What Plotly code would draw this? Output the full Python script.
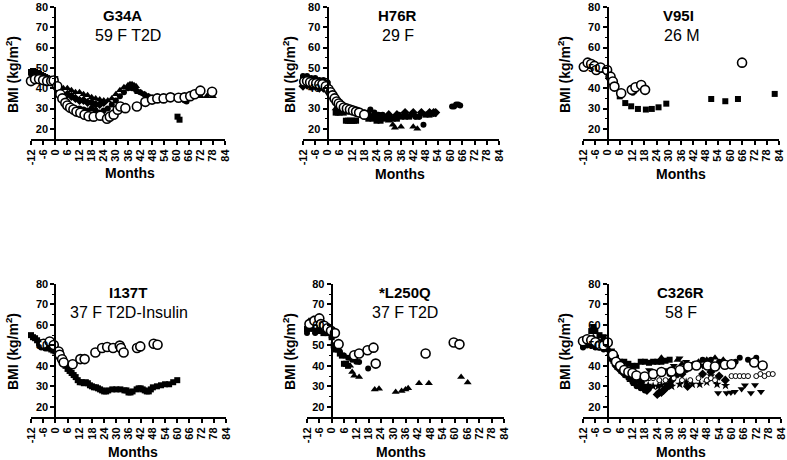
import plotly.graph_objects as go

# ---------------- data (months, BMI) ----------------
panel_titles = ["G34A", "H76R", "V95I", "I137T", "*L250Q", "C326R"]
panel_subtitles = ["59 F T2D", "29 F", "26 M", "37 F T2D-Insulin", "37 F T2D", "58 F"]
x_ticks = [-12, -6, 0, 6, 12, 18, 24, 30, 36, 42, 48, 54, 60, 66, 72, 78, 84]

# Panel 1: G34A
g34a_sq_m = [-12, -11, -10, -9, -8, -7, -6, -5, -4, -3, -2, -1, 0, 60.5, 61.5]
g34a_sq_v = [48, 48.5, 48, 47.5, 47, 46.5, 46, 45.5, 45, 44.5, 44, 44, 44.5, 26, 24.5]
g34a_tri_m = [0, 2, 4, 6, 8, 10, 12, 14, 16, 18, 20, 22, 24, 26, 28, 30, 32, 34, 36, 37, 38, 39, 40, 41, 42, 44, 46, 48, 52, 56, 60, 64, 68, 72, 75, 78]
g34a_tri_v = [43, 41, 40, 40, 39, 38, 38, 37, 36.5, 35.5, 35, 34.5, 34, 34, 35, 37, 39, 40.5, 41.5, 42, 42, 41.5, 41, 38, 38, 37, 36, 35, 35, 35, 35.5, 35.5, 36, 36, 36, 36]
g34a_dot_m = [-12, -10, -8, -6, -4, -2, 0, 1, 2, 3, 4, 5, 6, 7, 8, 9, 10, 12, 14, 16, 18, 20, 22, 24, 26, 28, 30, 32, 34, 36, 38, 40, 42, 44, 46, 48, 50, 54, 58, 62, 64, 65]
g34a_dot_v = [47, 46, 45, 45, 44, 43, 42, 40, 38, 36, 34, 33, 32, 31, 30.5, 30, 30, 30, 29.5, 29, 30, 29, 28, 29, 30, 32, 34, 36, 38, 40, 40, 39, 38, 37, 36, 35, 35, 35, 36, 36, 34, 33.5]
g34a_dia_m = [6, 8, 10, 12, 14, 16, 18, 20, 22, 24]
g34a_dia_v = [37, 36, 35, 34, 34, 33, 33, 32, 32, 33]
g34a_open_m = [-12, -10, -8, -6, -4, -2, -0.8, 1, 2.5, 3.5, 5, 6, 7.4, 9, 10.5, 12.4, 14.5, 16.5, 19, 22.3, 25.6, 27, 28.9, 30.9, 32.2, 34.7, 40.4, 44.6, 47.9, 50.5, 53.6, 57, 61, 64, 66.8, 69, 71.8, 77.6]
g34a_open_v = [43.5, 44.5, 44.5, 44, 43.5, 43.5, 43.8, 41, 37, 35, 32.8, 31.5, 30.4, 29.5, 28.5, 27.9, 27, 26.2, 26, 26.5, 25, 26, 27, 29.4, 31, 30.2, 31, 33.3, 34.4, 35, 35, 35.5, 35.3, 35.5, 36.1, 37, 38.8, 38.3]

# Panel 2: H76R
h76r_sq_m = [-12, -10, -8, -6, -4, -2, 0, 4, 5, 6, 8, 9, 10, 11, 12, 13, 14, 20, 22, 24, 26, 28, 30, 32, 34, 36, 38, 40, 44, 48, 50, 52]
h76r_sq_v = [45, 45, 44, 44, 43, 42, 42, 28, 28, 28, 28, 24, 24, 24, 24, 24, 24, 25, 25, 24, 24, 25, 25, 25, 25, 26, 26, 26, 26, 27, 27, 27.5]
h76r_tri_m = [-11, -9, -7, -5, -3, -1, 4, 6, 8, 12, 16, 20, 24, 28, 30, 32, 33, 36, 42, 44]
h76r_tri_v = [42, 43, 42, 41, 40, 40, 30, 29, 29, 28, 28, 27, 26, 25, 24, 22, 20.5, 21, 21, 20]
h76r_dot_m = [-12, -10, -8, -6, -4, -2, 0, 6, 8, 10, 12, 14, 16, 18, 20, 21, 23, 25, 27, 29, 31, 33, 35, 38, 41, 43, 45, 47, 61, 62, 63, 64, 65]
h76r_dot_v = [46, 46, 45, 45, 44, 44, 43, 31, 30, 30, 30, 29, 28, 28, 28, 29.5, 28, 27, 27, 26, 25, 26, 27, 27, 27, 26, 26, 22, 31, 31, 32, 32, 31.5]
h76r_dia_m = [-12, -10, -8, -6, -4, -2, 10, 14, 18, 22, 26, 30, 34, 38, 42, 46, 50, 52, 53]
h76r_dia_v = [41, 41.5, 41, 41, 40, 40, 29, 28, 27, 26, 26, 27, 27, 28, 28, 28, 28, 28, 28]
h76r_open_m = [-11.4, -10, -8.5, -7, -5.5, -4, -2.5, -0.8, 0.5, 1.5, 2.5, 3.5, 4.5, 5.5, 6.5, 8, 9.5, 11, 12.5, 14, 15.5, 18]
h76r_open_v = [43.3, 43.5, 43, 42.5, 42.5, 42, 42, 41, 39.5, 38, 36.5, 35, 33.5, 32.5, 31.5, 30.5, 30, 29.5, 29, 28.5, 28, 27]

# Panel 3: V95I
v95i_sq_m = [-12, -10, -8, -6, -4, -2, 0, 2, 4, 6, 8.7, 11.6, 14.9, 18.8, 21.7, 25, 28.8, 50.8, 57.7, 63.9, 81.9]
v95i_sq_v = [50, 51, 51, 50, 50, 49, 48, 45, 41, 36, 32.7, 31.1, 29.8, 29.5, 29.8, 30.6, 32.4, 34.7, 33.6, 34.7, 37.2]
v95i_dot_m = [12.4, 13.2]
v95i_dot_v = [37.8, 38.5]
v95i_open_m = [-11.6, -9.7, -8, -6.4, -5.5, -3.4, -0.2, 1.5, 2.6, 3.4, 6.7, 11.9, 13.7, 16.5, 18.4, 65.9]
v95i_open_v = [50.6, 52.6, 51.9, 51, 49, 50.2, 49, 45.7, 43.3, 40.8, 37.5, 39.2, 40.5, 41.6, 39.2, 52.6]

# Panel 4: I137T
i137t_sq_m = [-12, -11, -10, -9, -8, -7, -6, -5, -4, -3, -2, -1, 0, 1, 2, 3, 4, 5, 6, 7, 8, 9, 10, 11, 12, 13, 14, 15, 16, 17, 18, 19, 20, 21, 22, 23, 24, 25, 26, 28, 30, 32, 34, 35, 36, 37, 38, 40, 41, 42, 43, 44, 45, 46, 47, 48, 50, 52, 54, 56, 58, 60]
i137t_sq_v = [55, 54, 53.5, 52.5, 51.5, 50.5, 50, 49.5, 49, 48.5, 48, 47.5, 47, 46, 44.5, 43, 41, 40, 38.5, 37.5, 36.5, 35.5, 34.5, 33, 32, 32, 31.5, 32, 31.5, 30.5, 30, 29.5, 29.5, 29, 28.5, 28, 27.5, 27.5, 28, 28.5, 28.5, 28.5, 28, 28, 27, 27, 27.5, 28.5, 29, 29, 28.5, 28, 27.5, 27.5, 28.5, 29.5, 30, 30.5, 31, 31, 32, 33]
i137t_dot_m = [-8, -7, -6, -5, -4]
i137t_dot_v = [50, 49, 49.5, 48.5, 49]
i137t_open_m = [-5.8, -2.8, -0.8, 1.6, 2.1, 3.3, 4.1, 8.5, 12.3, 14.4, 19.7, 23, 25.5, 28.4, 31.7, 32.3, 33.6, 40.2, 41.8, 48.4, 50.3]
i137t_open_v = [50.8, 51.9, 50.2, 47, 45.4, 43.2, 41.6, 40.8, 43.3, 43.3, 46.5, 48.7, 49.2, 48.7, 49.9, 48.7, 46.5, 48.7, 49.5, 50.8, 50.3]

# Panel 5: *L250Q
l250q_sq_m = [-12, -10, -8, -6, -4, -2, 0, 1, 2, 3, 4, 5, 6, 7, 8]
l250q_sq_v = [58, 59, 57, 57, 56, 56, 54, 50, 48, 48, 46, 45, 41, 41, 40]
l250q_tri_m = [-11, -9, -7, -5, -3, -1, 9, 10, 11, 13.4, 21, 23.1, 31.2, 34.1, 36, 37.3, 42.6, 47.4, 63.1, 66.3]
l250q_tri_v = [62, 63, 63, 62, 60, 59, 40, 37, 35.1, 34.6, 28.5, 28.8, 27.2, 27.7, 28.5, 29, 31.5, 31.5, 34.6, 31.9]
l250q_dot_m = [-12, -10, -8, -6, -4, -2, 0, 2, 4, 6, 8, 10, 12, 13.4, 17.8]
l250q_dot_v = [56, 58, 56, 58, 57, 56, 54, 50, 47, 45, 44, 43, 42, 41.9, 38.7]
l250q_open_m = [-10.8, -8.4, -6, -5.2, -3.6, -2, -0.3, 1.6, 3.4, 11, 13.4, 17.5, 20.4, 21.5, 45.8, 59.5, 62.3]
l250q_open_v = [60.4, 62, 63.2, 60.4, 59.6, 58.4, 57.1, 56, 50.6, 45.2, 46, 47.6, 48.9, 41.1, 46, 51.4, 50.5]

# Panel 6: C326R
c326r_sq_m = [-12, -10, -8, -7, -6, -4, -2, 0, 2, 4, 6, 8, 10, 12, 14, 16, 18, 20, 22, 24, 26, 28, 30]
c326r_sq_v = [50, 52, 57, 59, 57, 55, 54, 52, 47, 44, 42, 42, 41, 40, 40, 42, 42, 41.5, 42, 42, 42, 42.5, 43]
c326r_tri_m = [-11, -9, -7, -5, -3, -1, 1, 3, 5, 7, 9, 11, 13, 15, 17, 26, 33.8, 36, 40, 44, 48, 52, 56]
c326r_tri_v = [50, 51, 54, 53, 52, 51, 46, 42, 39, 37, 35, 33, 31, 30, 29, 44, 42.9, 41, 40, 42, 43, 44, 43]
c326r_dot_m = [-12, -10, -8, -6, -4, -2, 0, 2, 4, 6, 8, 10, 12, 14, 16, 18, 20, 30, 34, 38, 42, 46, 50, 54, 58, 62, 64, 68, 72]
c326r_dot_v = [49, 50, 50, 49, 49, 48, 48, 43, 40, 38, 36, 34, 32, 30, 29, 28, 29, 36, 37, 38, 41, 43, 43, 42, 41, 42, 44, 43, 44]
c326r_dia_m = [4, 6, 8, 10, 12, 14, 16, 17, 18, 19, 24, 25, 26, 27, 28, 29, 30, 31, 32, 33, 34, 36, 38.7, 46, 50, 54, 57]
c326r_dia_v = [40, 38, 36, 35, 34, 33, 32, 30, 29, 28, 26, 27, 27, 28, 29, 30, 31, 33, 35, 36, 36, 36, 29.9, 36, 37, 35, 33]
c326r_star_m = [16.4, 19.6, 22, 24.4, 26, 28.4, 31, 34.9, 38, 41, 44.6, 48, 53, 57.1]
c326r_star_v = [29.9, 30.5, 30, 30, 30.5, 31, 30, 31, 32, 31, 31, 32, 31, 30.4]
c326r_tdown_m = [20, 24, 28, 32, 34.8, 38, 42, 46, 50, 53.5, 57.6, 59.7, 61.6, 64.9, 66.5, 69.4, 71.4, 74.3]
c326r_tdown_v = [38, 37, 38, 40, 43.7, 42, 41, 40, 35, 26.7, 26.7, 27, 27.3, 28.7, 30.5, 26.7, 30.7, 27.4]
c326r_sopen_m = [20, 22, 25, 28, 32, 36, 40, 44, 48, 50, 52, 60, 62, 64, 66, 68, 72, 74, 76, 78, 80, 84.3]
c326r_sopen_v = [34, 34, 33, 33, 34, 33, 33, 34, 33, 34, 33, 35, 35, 35, 35, 35, 35, 36, 35, 36, 36, 36.8]
c326r_open_m = [-12, -10, -8, -6, -4, -2, 0, 2.5, 4, 6, 8, 10, 12, 13.9, 17.9, 22, 26, 30.9, 35, 39, 43, 48.4, 52, 56.8, 60, 71, 75.1]
c326r_open_v = [52, 53, 52.5, 51.5, 50, 50, 51.4, 45.4, 42, 40, 38, 37, 36.5, 35.3, 34.8, 36, 37, 37.2, 38, 39.7, 40.2, 40.2, 39.7, 40.5, 40.8, 41.6, 40.2]

# ---------------- styles ----------------
W, H = 787, 460
FONT = "Liberation Sans, Arial, sans-serif"
STY = {
    "sq": dict(symbol="square", size=6, color="black"),
    "tri": dict(symbol="triangle-up", size=7, color="black"),
    "dot": dict(symbol="circle", size=6, color="black"),
    "dia": dict(symbol="diamond", size=7, color="black"),
    "star": dict(symbol="star", size=7, color="black"),
    "tdown": dict(symbol="triangle-down", size=7, color="black"),
    "sopen": dict(symbol="circle", size=5, color="white", line=dict(color="black", width=1)),
    "open": dict(symbol="circle", size=9, color="white", line=dict(color="black", width=1.6)),
}

panels = [
    [("sq", g34a_sq_m, g34a_sq_v), ("tri", g34a_tri_m, g34a_tri_v), ("dot", g34a_dot_m, g34a_dot_v), ("dia", g34a_dia_m, g34a_dia_v), ("open", g34a_open_m, g34a_open_v)],
    [("sq", h76r_sq_m, h76r_sq_v), ("tri", h76r_tri_m, h76r_tri_v), ("dot", h76r_dot_m, h76r_dot_v), ("dia", h76r_dia_m, h76r_dia_v), ("open", h76r_open_m, h76r_open_v)],
    [("sq", v95i_sq_m, v95i_sq_v), ("dot", v95i_dot_m, v95i_dot_v), ("open", v95i_open_m, v95i_open_v)],
    [("sq", i137t_sq_m, i137t_sq_v), ("dot", i137t_dot_m, i137t_dot_v), ("open", i137t_open_m, i137t_open_v)],
    [("sq", l250q_sq_m, l250q_sq_v), ("tri", l250q_tri_m, l250q_tri_v), ("dot", l250q_dot_m, l250q_dot_v), ("open", l250q_open_m, l250q_open_v)],
    [("sq", c326r_sq_m, c326r_sq_v), ("tri", c326r_tri_m, c326r_tri_v), ("dot", c326r_dot_m, c326r_dot_v), ("dia", c326r_dia_m, c326r_dia_v),
     ("star", c326r_star_m, c326r_star_v), ("tdown", c326r_tdown_m, c326r_tdown_v), ("sopen", c326r_sopen_m, c326r_sopen_v), ("open", c326r_open_m, c326r_open_v)],
]

# pixel geometry of each panel: x-domain (px), y-domain (px, top, bottom)
xdom_px = [(31, 225), (303, 499), (583, 779), (31, 226), (307, 504), (583, 781)]
ydom_px = [(7, 139)] * 3 + [(284, 417)] * 3
title_px = [(122, 15), (397, 15), (678, 15), (128, 292), (405, 292), (680, 292)]
sub_px = [(128, 35), (398, 35), (682, 35), (129, 312), (405, 312), (681, 312)]
months_px = [(130, 173), (400, 174), (681, 174), (133, 452), (401, 452), (681, 452)]
ytitle_px = [(12, 75), (289, 75), (564, 75), (12, 352), (289, 352), (564, 352)]

XMIN, XMAX, YMIN, YMAX = -12, 84, 15, 80

fig = go.Figure()
layout = dict(
    width=W, height=H, margin=dict(l=0, r=0, t=0, b=0, autoexpand=False),
    paper_bgcolor="white", plot_bgcolor="white", showlegend=False,
    font=dict(family=FONT, color="black"),
)
annotations = []

def px2x(p):
    return p / W

def px2y(p):
    return 1 - p / H

for i, traces in enumerate(panels):
    n = i + 1
    xa = "x" if n == 1 else f"x{n}"
    ya = "y" if n == 1 else f"y{n}"
    for key, m, v in traces:
        st = STY[key]
        fig.add_trace(go.Scatter(
            x=m, y=v, mode="markers", xaxis=xa, yaxis=ya, cliponaxis=False,
            marker=dict(symbol=st["symbol"], size=st["size"], color=st["color"],
                        line=st.get("line", dict(width=0))),
            hoverinfo="x+y",
        ))
    x0, x1 = xdom_px[i]
    yt, yb = ydom_px[i]
    zero_px = x0 + (0 - XMIN) / (XMAX - XMIN) * (x1 - x0)
    layout["xaxis" if n == 1 else f"xaxis{n}"] = dict(
        domain=[px2x(x0), px2x(x1)], range=[XMIN, XMAX], anchor=ya, automargin=False,
        tickmode="array", tickvals=x_ticks, ticktext=[str(t) for t in x_ticks],
        tickangle=-90, ticks="outside", ticklen=4, tickwidth=1.5, tickcolor="black",
        showline=True, linewidth=2, linecolor="black", showgrid=False, zeroline=False,
        tickfont=dict(family=FONT, size=11, weight="bold", color="black"),
    )
    layout["yaxis" if n == 1 else f"yaxis{n}"] = dict(
        domain=[px2y(yb), px2y(yt)], range=[YMIN, YMAX], anchor="free", position=px2x(zero_px),
        automargin=False,
        tick0=0, dtick=10, ticks="outside", ticklen=4, tickwidth=1.5, tickcolor="black",
        minor=dict(ticks="outside", dtick=5, tick0=0, ticklen=2, tickwidth=1, tickcolor="black"),
        showline=True, linewidth=2, linecolor="black", showgrid=False, zeroline=False,
        tickfont=dict(family=FONT, size=11, weight="bold", color="black"),
    )
    tx, ty = title_px[i]
    annotations.append(dict(text=f"<b>{panel_titles[i]}</b>", x=px2x(tx), y=px2y(ty), xref="paper", yref="paper",
                            xanchor="center", yanchor="middle", showarrow=False, font=dict(family=FONT, size=15)))
    sx, sy = sub_px[i]
    annotations.append(dict(text=panel_subtitles[i], x=px2x(sx), y=px2y(sy), xref="paper", yref="paper",
                            xanchor="center", yanchor="middle", showarrow=False, font=dict(family=FONT, size=16)))
    mx, my = months_px[i]
    annotations.append(dict(text="<b>Months</b>", x=px2x(mx), y=px2y(my), xref="paper", yref="paper",
                            xanchor="center", yanchor="middle", showarrow=False, font=dict(family=FONT, size=14)))
    bx, by = ytitle_px[i]
    annotations.append(dict(text="<b>BMI (kg/m<sup>2</sup>)</b>", x=px2x(bx), y=px2y(by), xref="paper", yref="paper",
                            xanchor="center", yanchor="middle", textangle=-90, showarrow=False, font=dict(family=FONT, size=14)))

layout["annotations"] = annotations
fig.update_layout(**layout)
fig.write_html("out.html", config={"displayModeBar": False},
               post_script="document.body.style.margin='0';document.body.style.padding='0';")
